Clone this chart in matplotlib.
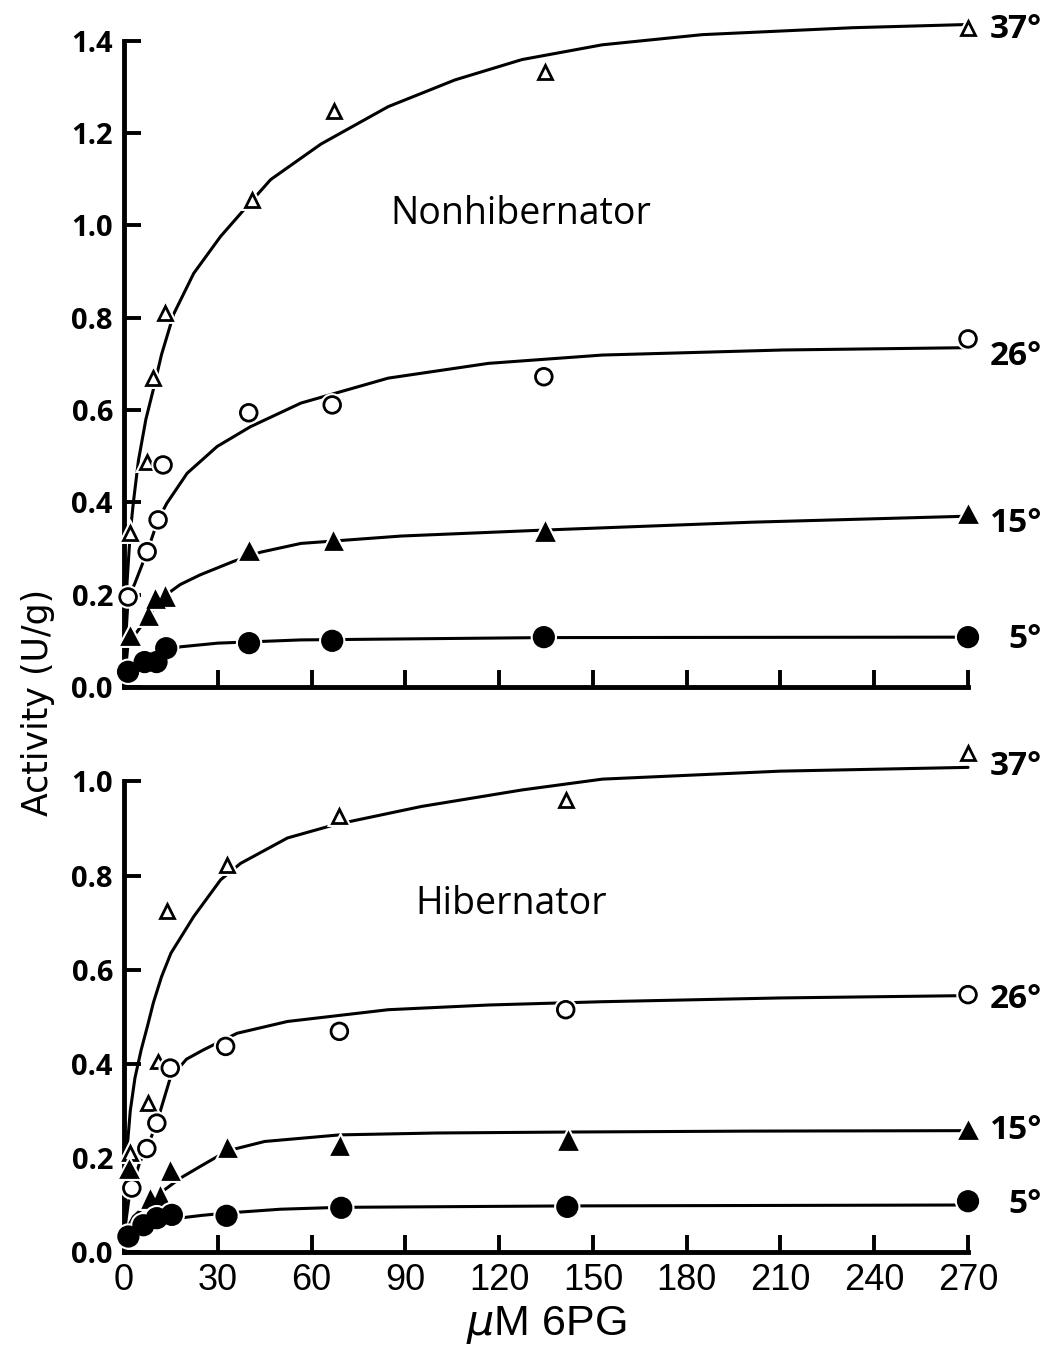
import matplotlib
matplotlib.use("Agg")
import matplotlib.pyplot as plt
import matplotlib.patheffects as pe

plt.rcParams['font.family'] = ['Open Sans', 'DejaVu Sans']
NARROW = ['Liberation Sans Narrow', 'Liberation Sans', 'DejaVu Sans']

# substrate concentrations (uM 6PG) and activities (U/g), read per temperature
temps = ["37°", "26°", "15°", "5°"]

# Nonhibernator
non_x_37 = [1.9, 7.4, 9.4, 13.2, 41, 67.3, 134.8, 270]
non_y_37 = [0.334, 0.488, 0.669, 0.81, 1.055, 1.247, 1.333, 1.428]
non_x_26 = [1.3, 7.4, 10.9, 12.5, 39.9, 66.6, 134.3, 270]
non_y_26 = [0.195, 0.293, 0.362, 0.481, 0.594, 0.611, 0.672, 0.754]
non_x_15 = [1.9, 7.8, 10, 13.2, 40, 67, 134.7, 270]
non_y_15 = [0.109, 0.152, 0.19, 0.195, 0.293, 0.315, 0.336, 0.373]
non_x_5 = [1.3, 6.6, 10.4, 13.5, 40, 66.6, 134.3, 270]
non_y_5 = [0.033, 0.054, 0.054, 0.084, 0.095, 0.1, 0.108, 0.108]

# Hibernator
hib_x_37 = [1.9, 7.8, 11, 13.7, 33, 68.9, 141.3, 270]
hib_y_37 = [0.21, 0.316, 0.405, 0.724, 0.823, 0.926, 0.961, 1.061]
hib_x_26 = [2.5, 7.3, 10.5, 14.8, 32.5, 68.9, 141.3, 270]
hib_y_26 = [0.136, 0.22, 0.274, 0.391, 0.437, 0.469, 0.515, 0.547]
hib_x_15 = [1.6, 8.4, 11.6, 14.8, 33, 69, 142, 270]
hib_y_15 = [0.175, 0.111, 0.117, 0.171, 0.22, 0.224, 0.236, 0.259]
hib_x_5 = [1.4, 6.2, 10.5, 15.3, 32.8, 69.5, 141.8, 270]
hib_y_5 = [0.033, 0.057, 0.072, 0.079, 0.077, 0.094, 0.096, 0.108]

# hand-drawn saturation curves, traced point by point
cn_x_37 = [0, 0.5, 1, 2, 3, 4.6, 7, 9.4, 12, 15.9, 22.3, 30.9, 38.4, 46.9, 63, 84.5, 105.9, 127.3, 153, 185, 233, 270]
cn_y_37 = [0, 0.15, 0.23, 0.335, 0.4, 0.49, 0.58, 0.645, 0.72, 0.808, 0.896, 0.976, 1.034, 1.099, 1.176, 1.257, 1.315, 1.359, 1.391, 1.413, 1.428, 1.435]
cn_x_26 = [0, 0.5, 1.3, 3.5, 7.4, 10.9, 13.7, 20.2, 29.8, 40.5, 56.6, 84.5, 116.6, 153, 211, 270]
cn_y_26 = [0, 0.1, 0.19, 0.225, 0.293, 0.362, 0.398, 0.463, 0.521, 0.564, 0.615, 0.669, 0.701, 0.719, 0.73, 0.735]
cn_x_15 = [0, 1.3, 2.9, 7.7, 12.1, 18, 24.4, 35, 43.7, 56.6, 88.7, 134.7, 201, 270]
cn_y_15 = [0, 0.095, 0.108, 0.152, 0.193, 0.222, 0.243, 0.272, 0.292, 0.311, 0.327, 0.34, 0.357, 0.37]
cn_x_5 = [0, 1, 5, 10, 18, 30, 56.6, 134, 270]
cn_y_5 = [0, 0.035, 0.052, 0.066, 0.087, 0.095, 0.102, 0.107, 0.108]

ch_x_37 = [0, 0.5, 1, 2, 3.5, 5.5, 7.5, 9.4, 12, 15, 22.3, 30.9, 37.3, 52.3, 67.3, 95.2, 127.3, 153, 210, 270]
ch_y_37 = [0, 0.14, 0.22, 0.3, 0.37, 0.43, 0.48, 0.53, 0.585, 0.635, 0.713, 0.791, 0.826, 0.88, 0.908, 0.947, 0.982, 1.005, 1.022, 1.03]
ch_x_26 = [0, 0.5, 1.5, 2.5, 5, 7.3, 10.5, 14.8, 20, 25.5, 36.2, 52.3, 84.5, 116.6, 153, 210, 270]
ch_y_26 = [0, 0.06, 0.11, 0.136, 0.19, 0.22, 0.275, 0.37, 0.41, 0.43, 0.465, 0.49, 0.515, 0.525, 0.532, 0.54, 0.545]
ch_x_15 = [0, 1, 3, 8, 12.5, 18, 24.4, 33, 45, 69, 100, 141, 200, 270]
ch_y_15 = [0, 0.05, 0.075, 0.105, 0.13, 0.157, 0.182, 0.215, 0.235, 0.249, 0.253, 0.255, 0.257, 0.258]
ch_x_5 = [0, 1.4, 6, 10.5, 15, 25, 33, 50, 69, 141, 270]
ch_y_5 = [0, 0.03, 0.05, 0.062, 0.07, 0.078, 0.083, 0.091, 0.095, 0.098, 0.1]

x_ticks = [0, 30, 60, 90, 120, 150, 180, 210, 240, 270]
top_yticks = [0.0, 0.2, 0.4, 0.6, 0.8, 1.0, 1.2, 1.4]
bot_yticks = [0.0, 0.2, 0.4, 0.6, 0.8, 1.0]

# marker style per temperature: (marker, facecolor, size)
styles = {
    "37°": ("^", "white", 10),
    "26°": ("o", "white", 12),
    "15°": ("^", "black", 11),
    "5°": ("o", "black", 14),
}

fig = plt.figure(figsize=(10.59, 13.46), dpi=100)
ax_top = fig.add_axes([0.1171, 0.4896, 0.7970, 0.4802])
ax_bot = fig.add_axes([0.1171, 0.0698, 0.7970, 0.3496])

halo = [pe.Stroke(linewidth=5, foreground="white"), pe.Normal()]


def draw_panel(ax, pts, curves, ymax, yticks, label_y, title, title_pos):
    for t, (px, py), (cx, cy) in zip(temps, pts, curves):
        ax.plot(cx, cy, color="black", lw=2.2, clip_on=False, zorder=2,
                solid_capstyle="round")
        m, fc, ms = styles[t]
        ax.plot(px, py, ls="none", marker=m, mfc=fc, mec="black", mew=2.0,
                ms=ms, clip_on=False, zorder=3, path_effects=halo)
    for t, ly in zip(temps, label_y):
        xoff = 283 if t == "5°" else 277
        ax.text(xoff, ly, t, fontsize=24, fontweight="bold", va="center",
                ha="left", clip_on=False)
    ax.text(title_pos[0], title_pos[1], title, fontsize=27, ha="center",
            va="center")
    ax.set_xlim(0, 270)
    ax.set_ylim(0, ymax)
    ax.set_xticks(x_ticks)
    ax.set_yticks(yticks)
    ax.set_yticklabels([f"{v:.1f}" for v in yticks])
    for s in ("top", "right"):
        ax.spines[s].set_visible(False)
    for s in ("left", "bottom"):
        ax.spines[s].set_linewidth(3.5)
    ax.tick_params(direction="in", length=12, width=2.8, labelsize=21,
                   pad=8)
    for lab in ax.get_yticklabels():
        lab.set_fontweight("bold")
    for lab in ax.get_xticklabels():
        lab.set_family(NARROW)
        lab.set_fontsize(26)


draw_panel(ax_top,
           [(non_x_37, non_y_37), (non_x_26, non_y_26), (non_x_15, non_y_15), (non_x_5, non_y_5)],
           [(cn_x_37, cn_y_37), (cn_x_26, cn_y_26), (cn_x_15, cn_y_15), (cn_x_5, cn_y_5)],
           1.4, top_yticks, [1.424, 0.715, 0.355, 0.102],
           "Nonhibernator", (127, 1.025))
ax_top.tick_params(labelbottom=False)

draw_panel(ax_bot,
           [(hib_x_37, hib_y_37), (hib_x_26, hib_y_26), (hib_x_15, hib_y_15), (hib_x_5, hib_y_5)],
           [(ch_x_37, ch_y_37), (ch_x_26, ch_y_26), (ch_x_15, ch_y_15), (ch_x_5, ch_y_5)],
           1.0, bot_yticks, [1.031, 0.536, 0.259, 0.1],
           "Hibernator", (124, 0.74))

ax_bot.set_xlabel(r"$\mu$M 6PG", fontsize=31, labelpad=4, family=NARROW)
fig.text(0.036, 0.478, "Activity (U/g)", rotation=90, fontsize=25,
         ha="center", va="center", family=['DejaVu Sans'])

fig.savefig("out.png", dpi=100)
